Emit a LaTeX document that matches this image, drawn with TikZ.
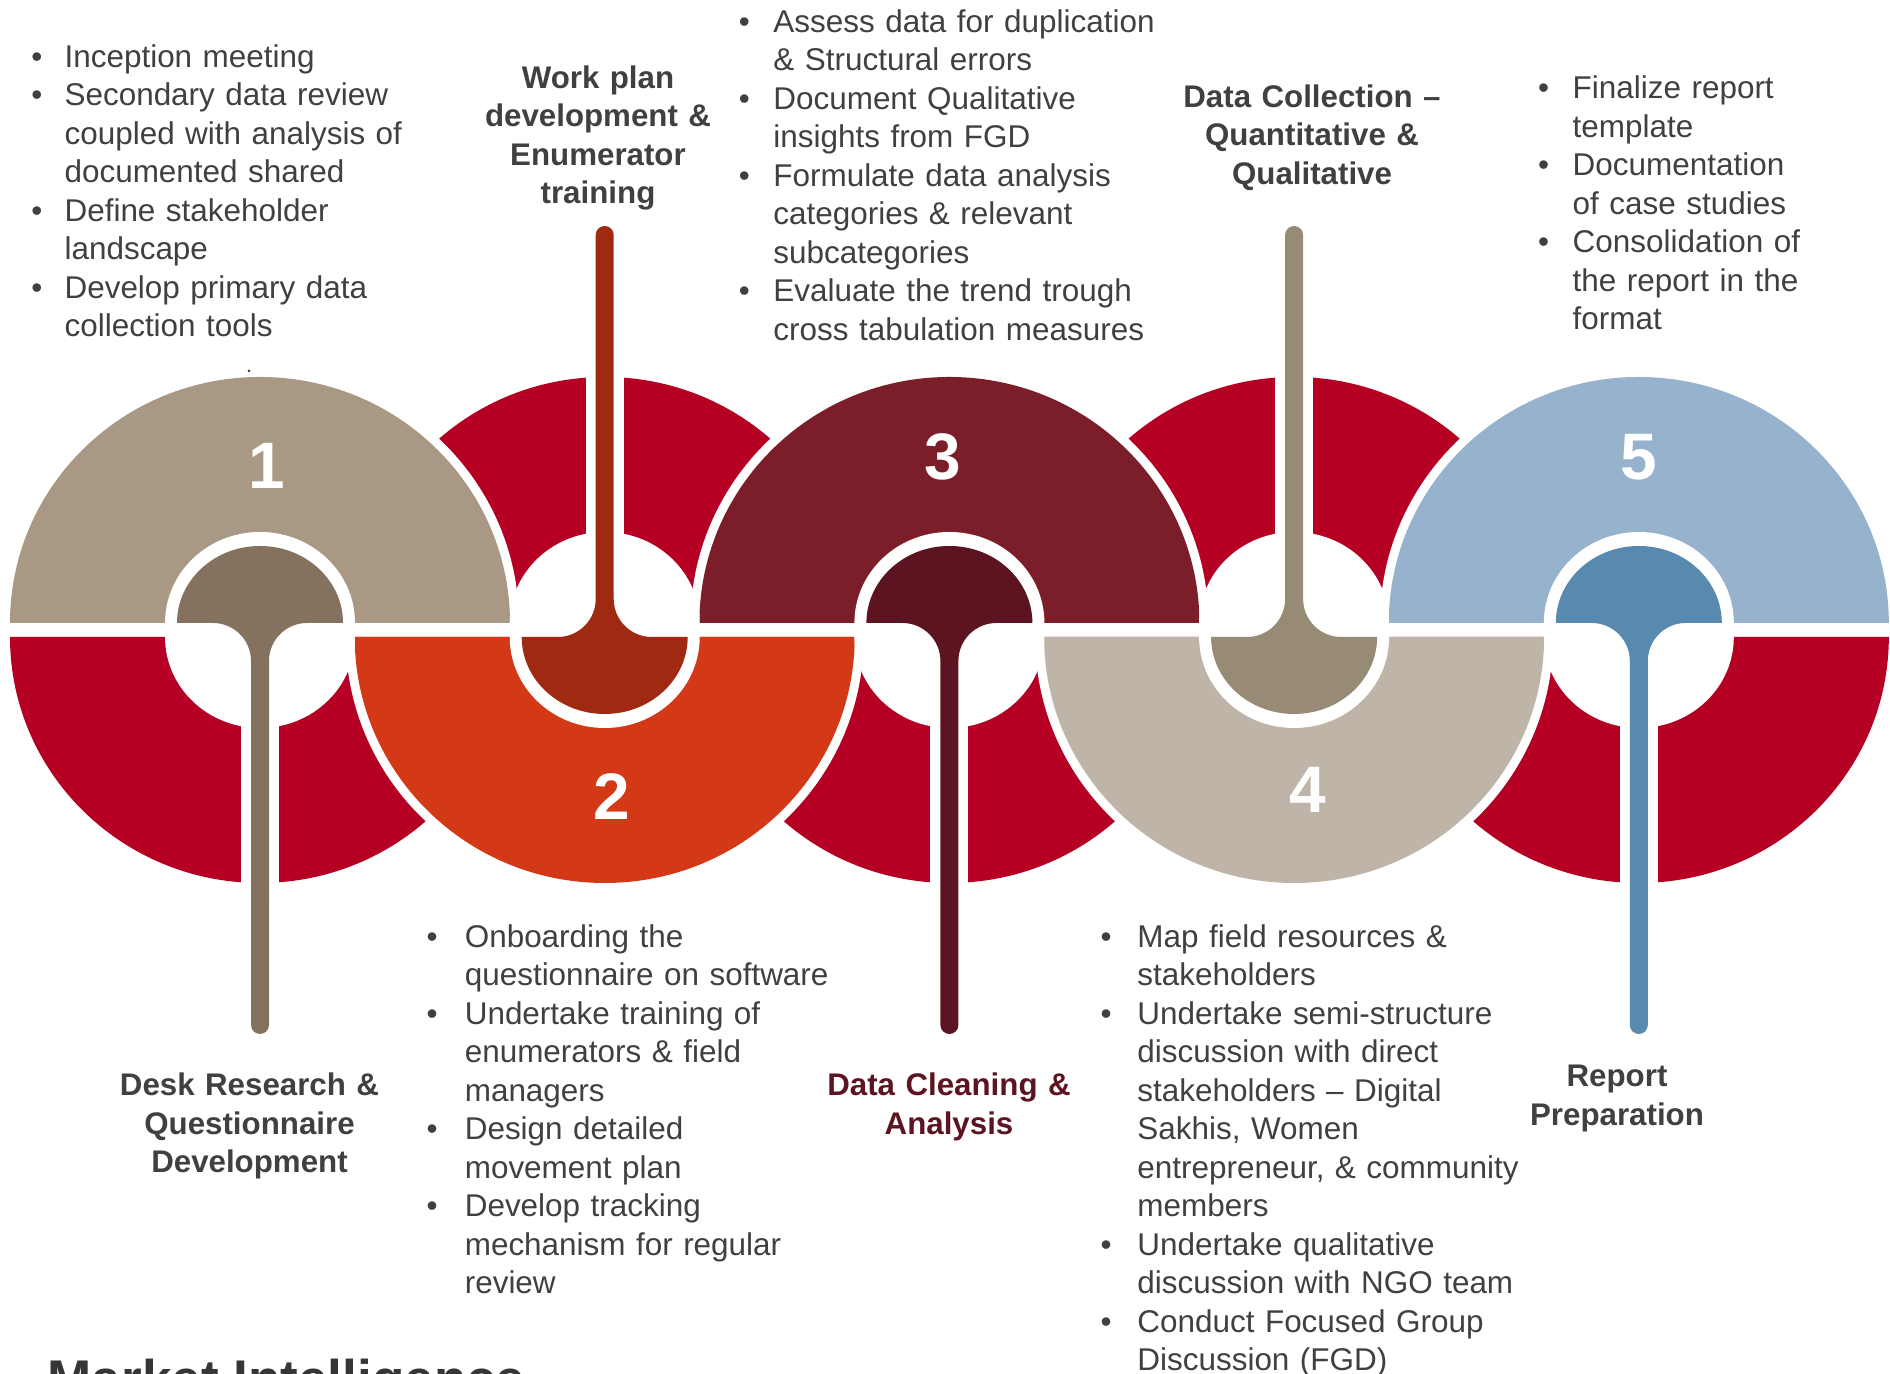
\documentclass[tikz,border=0pt]{standalone}
\usepackage{fontspec}
\setmainfont{Liberation Sans}
% bullet item with hanging indent: #1 indent, #2 text
\newcommand{\bitem}[2]{\noindent\hangindent=#1\hangafter=1\makebox[#1][l]{\textbullet}#2\par}
% half-ellipse paths: centre x, flat-edge y, x radius, y radius
\newcommand{\uphalf}[4]{({#1-#3},#2) arc[start angle=180,end angle=0,x radius=#3,y radius=#4] -- cycle}
\newcommand{\downhalf}[4]{({#1+#3},#2) arc[start angle=0,end angle=-180,x radius=#3,y radius=#4] -- cycle}
\definecolor{segred}{HTML}{B50024}
\definecolor{tanA}{HTML}{A89884}
\definecolor{tanAd}{HTML}{84725F}
\definecolor{orB}{HTML}{D43917}
\definecolor{orBd}{HTML}{A02911}
\definecolor{marC}{HTML}{7C1E2A}
\definecolor{marCd}{HTML}{5C1520}
\definecolor{greD}{HTML}{BEB5A8}
\definecolor{greDd}{HTML}{978B76}
\definecolor{bluE}{HTML}{96B2CC}
\definecolor{bluEd}{HTML}{5889AE}
\definecolor{txt}{HTML}{404040}
\begin{document}
\begin{tikzpicture}[x=0.1mm,y=0.1mm,
  listtxt/.style={anchor=base west, inner sep=0, text=txt,
    font=\fontsize{8.95}{10.95}\selectfont, text width=52mm},
  heading/.style={anchor=base, inner sep=0, text=txt,
    font=\bfseries\fontsize{8.9}{10.95}\selectfont, text width=45mm, align=center},
  num/.style={inner sep=0, text=white, font=\bfseries\fontsize{18.7}{20}\selectfont}]
\useasboundingbox (0,0) rectangle (1890,1374);
\clip (0,0) rectangle (1890,1374);

% crimson halves of the five rings
\foreach \c in {260,949.4,1638.8} \fill[segred] \downhalf{\c}{737}{250}{246};
\foreach \c in {604.7,1294.1} \fill[segred] \uphalf{\c}{751}{250}{246};
% slots through the crimson halves for the stems
\foreach \c in {260,949.4,1638.8} \fill[white] ({\c-19},470) rectangle ({\c+19},737);
\foreach \c in {604.7,1294.1} \fill[white] ({\c-19},751) rectangle ({\c+19},1010);

% coloured halves with a white rim
\foreach \c/\fc in {260/tanA,949.4/marC,1638.8/bluE} {
  \fill[white] \uphalf{\c}{751}{259}{255};
  \fill[\fc] \uphalf{\c}{751}{250}{246};
}
\foreach \c/\fc in {604.7/orB,1294.1/greD} {
  \fill[white] \downhalf{\c}{737}{259}{255};
  \fill[\fc] \downhalf{\c}{737}{250}{246};
}

% ring holes
\foreach \c in {260,604.7,949.4,1294.1,1638.8}
  \fill[white] ({\c-95},751) arc[start angle=180,end angle=0,x radius=95,y radius=91]
    -- ({\c+95},737) arc[start angle=0,end angle=-180,x radius=95,y radius=91] -- cycle;

% drops with stems running down
\foreach \c/\dc in {260/tanAd,949.4/marCd,1638.8/bluEd}
  \fill[\dc] ({\c-83},751) arc[start angle=180,end angle=0,x radius=83,y radius=77]
    -- ({\c+47},751) arc[start angle=90,end angle=180,radius=38]
    -- ({\c+9},349) arc[start angle=0,end angle=-180,radius=9]
    -- ({\c-9},713) arc[start angle=0,end angle=90,radius=38] -- cycle;
% drops with stems running up
\foreach \c/\dc in {604.7/orBd,1294.1/greDd}
  \fill[\dc] ({\c+83},737) arc[start angle=0,end angle=-180,x radius=83,y radius=77]
    -- ({\c-47},737) arc[start angle=-90,end angle=0,radius=38]
    -- ({\c-9},1139) arc[start angle=180,end angle=0,radius=9]
    -- ({\c+9},775) arc[start angle=180,end angle=270,radius=38] -- cycle;

\fill[txt] (249,1003) circle[radius=1.5];

% step numbers
\node[num] (n1) at (267,908) {1};
\node[num] (n2) at (612,577) {2};
\node[num] (n3) at (943,917) {3};
\node[num] (n4) at (1308,584) {4};
\node[num] (n5) at (1639,917) {5};

% step headings
\node[heading] (t1) at (249.5,278) {Desk Research \&\\ Questionnaire\\ Development};
\node[heading] (t2) at (598,1285.5) {Work plan\\ development \&\\ Enumerator\\ training};
\node[heading, text=marCd] (t3) at (949,278) {Data Cleaning \&\\ Analysis};
\node[heading] (t4) at (1312,1266.5) {Data Collection –\\ Quantitative \&\\ Qualitative};
\node[heading] (t5) at (1617,287) {Report\\ Preparation};

% activity lists
\node[listtxt] (la) at (30.6,1306.5) {%
  \bitem{3.33mm}{Inception meeting}%
  \bitem{3.33mm}{Secondary data review\newline coupled with analysis of\newline documented shared}%
  \bitem{3.33mm}{Define stakeholder\newline landscape}%
  \bitem{3.33mm}{Develop primary data\newline collection tools}};
\node[listtxt] (lb) at (738.1,1341.5) {%
  \bitem{3.46mm}{Assess data for duplication\newline \& Structural errors}%
  \bitem{3.46mm}{Document Qualitative\newline insights from FGD}%
  \bitem{3.46mm}{Formulate data analysis\newline categories \& relevant\newline subcategories}%
  \bitem{3.46mm}{Evaluate the trend trough\newline cross tabulation measures}};
\node[listtxt] (lc) at (1537.4,1275) {%
  \bitem{3.46mm}{Finalize report\newline template}%
  \bitem{3.46mm}{Documentation\newline of case studies}%
  \bitem{3.46mm}{Consolidation of\newline the report in the\newline format}};
\node[listtxt] (ld) at (425.9,426.5) {%
  \bitem{3.82mm}{Onboarding the\newline questionnaire on software}%
  \bitem{3.82mm}{Undertake training of\newline enumerators \& field\newline managers}%
  \bitem{3.82mm}{Design detailed\newline movement plan}%
  \bitem{3.82mm}{Develop tracking\newline mechanism for regular\newline review}};
\node[listtxt] (le) at (1099.8,426.5) {%
  \bitem{3.69mm}{Map field resources \&\newline stakeholders}%
  \bitem{3.69mm}{Undertake semi-structure\newline discussion with direct\newline stakeholders – Digital\newline Sakhis, Women\newline entrepreneur, \& community\newline members}%
  \bitem{3.69mm}{Undertake qualitative\newline discussion with NGO team}%
  \bitem{3.69mm}{Conduct Focused Group\newline Discussion (FGD)}};

\node[anchor=base west, inner sep=0, text=txt!85!black,
  font=\bfseries\fontsize{15.1}{18}\selectfont] (mi) at (47,-24) {Market Intelligence};
\end{tikzpicture}
\end{document}
